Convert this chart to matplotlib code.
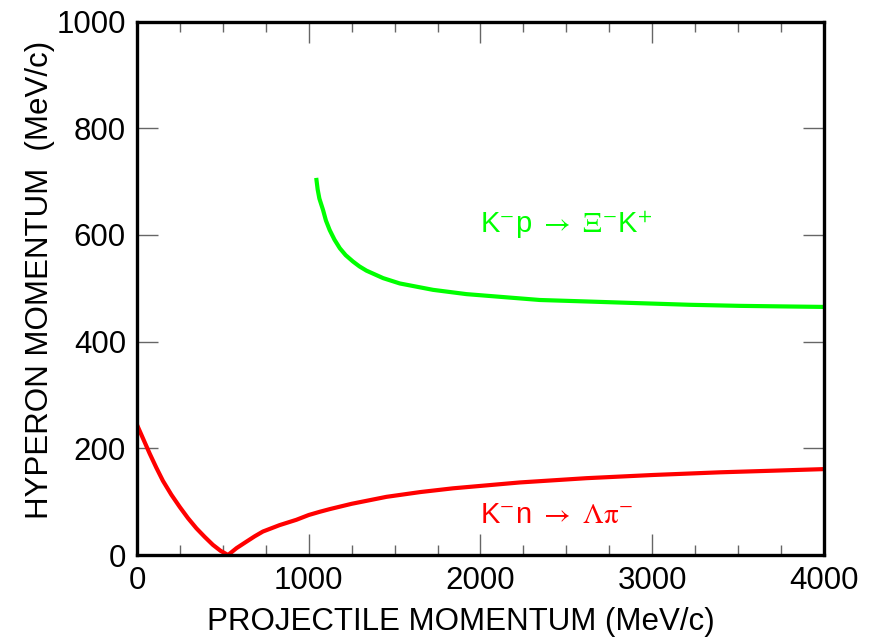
import numpy as np
import matplotlib
matplotlib.use('Agg')
import matplotlib.pyplot as plt
from matplotlib.ticker import MultipleLocator

plt.rcParams['font.family'] = ['Liberation Sans', 'DejaVu Sans']
plt.rcParams['mathtext.fontset'] = 'stix'

# ---- data ----
# K- p -> Xi- K+  (green)
xi_p  = [1045, 1052, 1062, 1083, 1100, 1122, 1150, 1181, 1215, 1258, 1295,
         1336, 1433, 1530, 1724, 1918, 2112, 2346, 2640, 2928, 3220, 3510,
         3750, 4000]
xi_q  = [703, 685, 668, 647, 627, 609, 591, 575, 562, 550, 541,
         533, 519, 509, 497, 489, 484, 478, 475, 472, 469, 467,
         466, 465]

# K- n -> Lambda pi-  (red)
lam_p = [0, 37, 74, 112, 151, 200, 249, 297, 346, 394, 442, 486, 530,
         580, 637, 685, 733, 830, 928, 1000, 1064, 1122, 1250, 1452, 1650,
         1840, 2229, 2617, 3005, 3394, 3700, 4000]
lam_q = [244, 217, 190, 164, 139, 113, 90, 69, 50, 34, 19, 8, 0,
         13, 25, 35, 44, 56, 66, 75, 81, 86, 96, 109, 118,
         125, 136, 144, 150, 155, 158, 161]

fig = plt.figure(figsize=(8.76, 6.4), dpi=100)
ax = fig.add_axes([0.1564, 0.1328, 0.7842, 0.8336])

ax.plot(xi_p, xi_q, color='#00ff00', lw=3, solid_joinstyle='round')
ax.plot(lam_p, lam_q, color='#ff0000', lw=3, solid_joinstyle='round')

ax.set_xlim(0, 4000)
ax.set_ylim(0, 1000)

ax.xaxis.set_major_locator(MultipleLocator(1000))
ax.xaxis.set_minor_locator(MultipleLocator(250))
ax.yaxis.set_major_locator(MultipleLocator(200))

ax.tick_params(which='both', direction='in', top=True, right=True,
               color='#666666', width=1, labelsize=22.5)
ax.tick_params(which='major', length=15, pad=8)
ax.tick_params(which='minor', length=7.5)
for sp in ax.spines.values():
    sp.set_linewidth(2.4)

ax.text(2000, 604, r'K$^{-}$p $\rightarrow$ $\Xi^{-}$K$^{+}$', color='#00ff00',
        fontsize=21, ha='left', va='baseline')
ax.text(2000, 60, r'K$^{-}$n $\rightarrow$ $\mathrm{\Lambda\pi}^{-}$', color='#ff0000',
        fontsize=21, ha='left', va='baseline')

fig.text(461 / 876, 1 - 622 / 640, 'PROJECTILE MOMENTUM (MeV/c)',
         fontsize=22.5, ha='center', va='center')
fig.text(40 / 876, 1 - 280 / 640, 'HYPERON MOMENTUM  (MeV/c)',
         fontsize=22.5, ha='center', va='center', rotation=90)

fig.savefig('out.png', dpi=100)
